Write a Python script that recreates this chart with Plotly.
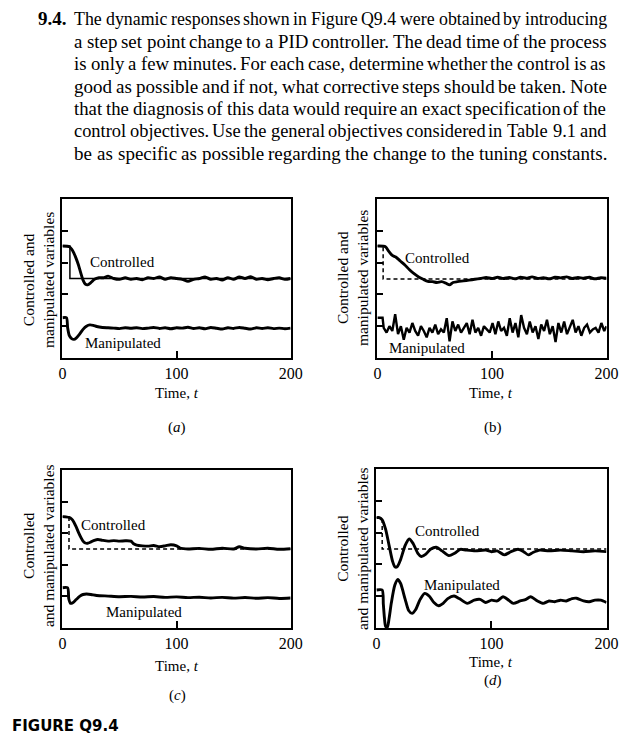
import plotly.graph_objects as go

W, H = 639, 742
SERIF = "Liberation Serif"

# ---------------- data ----------------
x_ticks = [0, 100, 200]
x_tick_labels = ["0", "100", "200"]
left_ticks = [2, 4, 6, 8]
right_ticks = [2.5, 7.5]

# panel (a)
a_ctrl_t = [0, 6, 8, 10, 12, 14, 16, 18, 20, 22, 25, 28, 32, 36, 40, 45, 50, 55, 60, 65, 70, 75, 80,
            85, 90, 95, 100, 105, 110, 115, 120, 125, 130, 135, 140, 145, 150, 155, 160, 165, 170,
            175, 180, 185, 190, 195, 200]
a_ctrl_v = [7.04, 7.0, 6.85, 6.6, 6.25, 5.85, 5.35, 4.9, 4.65, 4.6, 4.75, 4.95, 5.05, 5.05, 5.15, 5.0,
            4.95, 5.05, 4.95, 5.0, 4.92, 5.05, 5.0, 5.1, 4.95, 5.05, 5.0, 4.95, 4.82, 4.95, 5.0, 5.1,
            4.95, 5.0, 4.9, 5.05, 4.95, 5.1, 5.0, 5.12, 4.95, 5.0, 4.92, 5.0, 5.05, 4.95, 5.0]
a_sp_t = [0, 6.5, 6.5, 200]
a_sp_v = [7.04, 7.04, 5.0, 5.0]
a_man_t = [0, 3.5, 4.5, 6, 8, 10, 12, 15, 18, 21, 24, 27, 30, 35, 40, 45, 50, 55, 60, 65, 70, 75, 80,
           85, 90, 95, 100, 105, 110, 115, 120, 125, 130, 135, 140, 145, 150, 155, 160, 165, 170,
           175, 180, 185, 190, 195, 200]
a_man_v = [2.53, 2.53, 1.9, 1.4, 1.22, 1.17, 1.25, 1.5, 1.8, 2.0, 2.08, 2.05, 1.98, 1.92, 1.9, 1.88,
           1.85, 1.9, 1.87, 1.9, 1.85, 1.88, 1.92, 1.86, 1.9, 1.84, 1.9, 1.88, 1.93, 1.86, 1.9, 1.84,
           1.92, 1.87, 1.82, 1.9, 1.86, 1.92, 1.87, 1.82, 1.9, 1.86, 1.9, 1.85, 1.88, 1.84, 1.88]

# panel (b)
b_ctrl_t = [0, 7, 10, 13, 16, 20, 24, 28, 32, 36, 40, 44, 48, 52, 56, 60, 63, 66, 70, 75, 80, 85, 90,
            95, 100, 105, 110, 115, 120, 125, 130, 135, 140, 145, 150, 155, 160, 165, 170, 175, 180,
            185, 190, 195, 200]
b_ctrl_v = [7.04, 7.0, 6.7, 6.45, 6.35, 6.1, 5.85, 5.55, 5.3, 5.1, 4.95, 4.82, 4.8, 4.75, 4.8, 4.7,
            4.6, 4.75, 4.8, 4.85, 4.9, 4.95, 5.0, 5.06, 5.0, 5.08, 5.0, 5.06, 4.98, 5.08, 5.02, 5.1,
            5.0, 5.05, 4.98, 5.08, 5.04, 5.1, 5.0, 5.06, 5.02, 5.08, 4.98, 5.05, 5.02]
b_sp_t = [0, 5, 5, 200]
b_sp_v = [7.04, 7.04, 4.97, 4.97]
b_man_t = [0, 4.5, 5.5, 8, 10.5, 13, 15.5, 18, 20.5, 23, 25.5, 28, 30.5, 33, 35.5, 38, 40.5, 43, 45.5,
           48, 50.5, 53, 55.5, 58, 60.5, 63, 65.5, 68, 70.5, 73, 75.5, 78, 80.5, 83, 85.5, 88, 90.5,
           93, 95.5, 98, 100.5, 103, 105.5, 108, 110.5, 113, 115.5, 118, 120.5, 123, 125.5, 128,
           130.5, 133, 135.5, 138, 140.5, 143, 145.5, 148, 150.5, 153, 155.5, 158, 160.5, 163,
           165.5, 168, 170.5, 173, 175.5, 178, 180.5, 183, 185.5, 188, 190.5, 193, 195.5, 198, 200]
b_man_v = [2.53, 2.53, 1.9, 1.6, 2.0, 1.7, 2.75, 1.5, 2.0, 1.15, 1.9, 1.6, 2.2, 1.7, 1.4, 2.0, 1.7,
           1.3, 1.9, 1.6, 2.1, 1.5, 1.8, 1.6, 2.5, 1.05, 2.3, 1.7, 2.1, 1.6, 1.9, 2.2, 1.5, 2.4, 1.6,
           1.9, 1.4, 2.0, 1.8, 1.6, 2.2, 1.5, 2.3, 1.7, 1.9, 1.4, 2.5, 1.6, 2.2, 1.3, 2.7, 1.9, 1.5,
           2.3, 1.6, 2.0, 1.2, 2.1, 1.7, 2.4, 1.5, 2.0, 1.0, 2.2, 1.6, 2.3, 1.5, 1.9, 2.4, 1.6, 2.0,
           1.4, 1.9, 2.1, 1.6, 1.8, 1.9, 1.6, 2.2, 1.7, 2.0]

# panel (c)
c_ctrl_t = [0, 5.7, 8, 10, 12, 14, 16, 18, 20, 22, 25, 28, 31, 35, 40, 45, 50, 55, 60, 62, 65, 70, 75,
            80, 85, 90, 95, 100, 103, 106, 110, 120, 130, 140, 150, 155, 160, 170, 180, 190, 200]
c_ctrl_v = [7.05, 7.0, 6.9, 6.7, 6.4, 6.05, 5.75, 5.5, 5.38, 5.36, 5.45, 5.55, 5.6, 5.55, 5.5, 5.53,
            5.5, 5.52, 5.5, 5.35, 5.25, 5.2, 5.18, 5.22, 5.15, 5.2, 5.27, 5.2, 5.06, 5.02, 5.0, 5.04,
            4.98, 5.05, 5.0, 5.14, 5.05, 5.0, 5.05, 4.98, 5.02]
c_sp_t = [0, 5.7, 5.7, 200]
c_sp_v = [7.05, 7.05, 5.0, 5.0]
c_man_t = [0, 4.5, 5.5, 7, 9, 12, 15, 18, 21, 25, 30, 40, 50, 60, 70, 80, 90, 100, 110, 120, 130, 140,
           150, 160, 170, 180, 190, 200]
c_man_v = [2.55, 2.55, 1.85, 1.56, 1.6, 1.8, 2.0, 2.12, 2.15, 2.12, 2.06, 2.02, 1.98, 2.0, 1.96, 1.99,
           1.94, 1.97, 1.92, 1.95, 1.9, 1.94, 1.89, 1.93, 1.88, 1.92, 1.87, 1.9]

# panel (d)
d_ctrl_t = [0, 2.5, 5, 8, 11, 14, 16, 18, 21, 25, 28.5, 32, 36, 39, 43, 47, 52, 57, 63, 68, 73, 78, 86,
            95, 100, 105, 111, 117, 123, 128, 132, 136, 142, 150, 160, 170, 180, 190, 200]
d_ctrl_v = [6.94, 6.94, 6.8, 6.2, 5.2, 4.2, 3.85, 3.85, 4.3, 5.2, 5.6, 5.3, 4.7, 4.5, 4.65, 4.95, 5.08,
            4.85, 4.55, 4.7, 4.95, 4.9, 4.85, 4.9, 4.8, 4.85, 4.6, 4.8, 4.95, 4.8, 4.6, 4.75, 4.9,
            4.85, 4.9, 4.85, 4.8, 4.85, 4.8]
d_sp_t = [0, 5, 5, 200]
d_sp_v = [6.94, 6.94, 4.97, 4.97]
d_man_t = [0, 5, 6, 7, 8, 9.5, 11, 13, 16, 18.6, 21, 25, 28, 31, 34, 38, 42, 46, 50, 54, 58, 62, 67.5,
           72, 79, 85, 90, 95, 100, 105, 110, 115, 119, 125, 130, 134, 140, 145, 150, 155, 160, 165,
           170, 174, 180, 185, 190, 195, 200]
d_man_v = [2.39, 2.39, 1.5, 0.6, 0.1, 0.05, 0.6, 1.6, 2.7, 3.06, 2.8, 1.8, 1.1, 0.92, 1.15, 1.8, 2.18,
           2.0, 1.6, 1.4, 1.55, 1.85, 2.01, 1.85, 1.55, 1.75, 1.8, 1.6, 1.75, 1.7, 1.97, 1.75, 1.55,
           1.7, 1.8, 1.97, 1.7, 1.55, 1.7, 1.65, 1.75, 1.7, 1.85, 1.87, 1.7, 1.65, 1.75, 1.75, 1.6]

PARAGRAPH = [
    "The dynamic responses shown in Figure Q9.4 were obtained by introducing",
    "a step set point change to a PID controller. The dead time of the process",
    "is only a few minutes. For each case, determine whether the control is as",
    "good as possible and if not, what corrective steps should be taken. Note",
    "that the diagnosis of this data would require an exact specification of the",
    "control objectives. Use the general objectives considered in Table 9.1 and",
    "be as specific as possible regarding the change to the tuning constants.",
]

# ---------------- layout helpers ----------------
def fx(px):
    return px / W

def fy(py):
    return 1 - py / H

# pixel boxes (left, right, top, bottom)
BOX = {
    1: (60, 294, 199, 358),
    2: (383, 618, 199, 358),
    3: (60, 294, 470, 628),
    4: (382, 618, 469, 628),
}

fig = go.Figure()

panels = [
    (1, a_ctrl_t, a_ctrl_v, a_sp_t, a_sp_v, a_man_t, a_man_v, "solid", "spline"),
    (2, b_ctrl_t, b_ctrl_v, b_sp_t, b_sp_v, b_man_t, b_man_v, "4px,3px", "linear"),
    (3, c_ctrl_t, c_ctrl_v, c_sp_t, c_sp_v, c_man_t, c_man_v, "4px,3px", "spline"),
    (4, d_ctrl_t, d_ctrl_v, d_sp_t, d_sp_v, d_man_t, d_man_v, "4px,3px", "spline"),
]

for i, ct, cv, st, sv, mt, mv, dash, mshape in panels:
    xa = "x" if i == 1 else f"x{i}"
    ya = "y" if i == 1 else f"y{i}"
    fig.add_trace(go.Scatter(x=st, y=sv, mode="lines", xaxis=xa, yaxis=ya,
                             line=dict(color="black", width=1.5, dash=dash), showlegend=False))
    fig.add_trace(go.Scatter(x=ct, y=cv, mode="lines", xaxis=xa, yaxis=ya,
                             line=dict(color="black", width=2.9, shape="spline", smoothing=0.7),
                             showlegend=False))
    mline = dict(color="black", width=2.4 if mshape == "linear" else 2.9, shape=mshape)
    if mshape == "spline":
        mline["smoothing"] = 0.7
    fig.add_trace(go.Scatter(x=mt, y=mv, mode="lines", xaxis=xa, yaxis=ya,
                             line=mline, showlegend=False))

layout = dict(
    width=W, height=H, margin=dict(l=0, r=0, t=0, b=0),
    paper_bgcolor="white", plot_bgcolor="white", showlegend=False,
    font=dict(family=SERIF, size=15, color="black"),
)

for i, (l, r, t, b) in BOX.items():
    sfx = "" if i == 1 else str(i)
    layout["xaxis" + sfx] = dict(
        domain=[fx(l), fx(r)], anchor="y" + sfx, range=[0, 200],
        tickvals=x_ticks, ticktext=x_tick_labels, ticks="inside", ticklen=7, tickwidth=1.5,
        tickcolor="black", showline=True, linecolor="black", linewidth=1.7, mirror=True,
        showgrid=False, zeroline=False, tickfont=dict(family=SERIF, size=16, color="black"),
        fixedrange=True,
    )
    layout["yaxis" + sfx] = dict(
        domain=[fy(b), fy(t)], anchor="x" + sfx, range=[0, 10],
        tickvals=left_ticks, ticks="inside", ticklen=6, tickwidth=1.5, tickcolor="black",
        showticklabels=False, showline=True, linecolor="black", linewidth=1.7, mirror=True,
        showgrid=False, zeroline=False, fixedrange=True,
    )

# right-hand inner ticks for panels b, c, d
for j, i in zip([5, 6, 7], [2, 3, 4]):
    layout[f"yaxis{j}"] = dict(
        overlaying=f"y{i}", side="right", anchor=f"x{i}", range=[0, 10],
        tickvals=right_ticks, ticks="inside", ticklen=6, tickwidth=1.5, tickcolor="black",
        showticklabels=False, showline=False, showgrid=False, zeroline=False, fixedrange=True,
    )

fig.update_layout(**layout)

ann = []

def add_text(x, y, text, size=15, family=SERIF, xanchor="center", yanchor="middle",
             angle=0, xref="paper", yref="paper"):
    ann.append(dict(x=x, y=y, xref=xref, yref=yref, text=text, showarrow=False,
                    xanchor=xanchor, yanchor=yanchor, textangle=angle, borderpad=0,
                    font=dict(family=family, size=size, color="black")))

# axis titles and sub-labels
add_text(fx(177), fy(393), "Time, <i>t</i>")
add_text(fx(500), fy(393), "Time, <i>t</i>")
add_text(fx(177), fy(666), "Time, <i>t</i>")
add_text(fx(500), fy(662), "Time, <i>t</i>")
add_text(fx(177), fy(428), "(<i>a</i>)")
add_text(fx(502), fy(428), "(b)")
add_text(fx(178), fy(695), "(<i>c</i>)")
add_text(fx(502), fy(680), "(<i>d</i>)")

add_text(fx(35), fy(280), "Controlled and<br>manipulated variables", size=15.5, angle=-90)
add_text(fx(357), fy(278), "Controlled and<br>manipulated variables", size=15.5, angle=-90)
add_text(fx(35), fy(546), "Controlled<br>and manipulated variables", size=15.5, angle=-90)
add_text(fx(357), fy(549), "Controlled<br>and manipulated variables", size=15.5, angle=-90)

# curve labels (data coordinates)
labels = [
    ("x", "y", 53, 6.04, 0.94, 53),
    ("x2", "y2", 52.8, 6.29, 0.63, 43.4),
    ("x3", "y3", 44.4, 6.52, 1.01, 71.8),
    ("x4", "y4", 61.9, 6.1, 2.7, 74.6),
]
for xr, yr, tc, vc, vm, tm in labels:
    add_text(tc, vc, "Controlled", xref=xr, yref=yr)
    add_text(tm, vm, "Manipulated", xref=xr, yref=yr)

add_text(fx(7), fy(726), "<b>FIGURE Q9.4</b>", size=15, family="DejaVu Sans", xanchor="left")

# paragraph, justified word by word using Times metrics
TW = {' ': 250, ',': 250, '.': 250, '-': 333, ':': 278, ';': 278,
      'A': 722, 'B': 667, 'C': 667, 'D': 722, 'E': 611, 'F': 556, 'G': 722, 'H': 722, 'I': 333,
      'J': 389, 'K': 722, 'L': 611, 'M': 889, 'N': 722, 'O': 722, 'P': 556, 'Q': 722, 'R': 667,
      'S': 556, 'T': 611, 'U': 722, 'V': 722, 'W': 944, 'X': 722, 'Y': 722, 'Z': 611,
      'a': 444, 'b': 500, 'c': 444, 'd': 500, 'e': 444, 'f': 333, 'g': 500, 'h': 500, 'i': 278,
      'j': 278, 'k': 500, 'l': 278, 'm': 778, 'n': 500, 'o': 500, 'p': 500, 'q': 500, 'r': 333,
      's': 389, 't': 278, 'u': 500, 'v': 500, 'w': 722, 'x': 500, 'y': 500, 'z': 444}

def em(s):
    return sum(TW.get(c, 500) for c in s) / 1000

PL, PR = 71, 616
add_text(fx(34), fy(19), "<b>9.4.</b>", size=19, xanchor="left")
for k, line in enumerate(PARAGRAPH):
    yy = 19 + k * 22.4
    words = line.split(" ")
    ems = [em(w) for w in words]
    size = (PR - PL - 4.8 * (len(words) - 1)) / sum(ems)
    size = max(17.6, min(19.0, size))
    widths = [e * size for e in ems]
    gap = (PR - PL - sum(widths)) / (len(words) - 1)
    xx = PL
    for w, ww in zip(words, widths):
        add_text(fx(xx), fy(yy), w, size=size, xanchor="left")
        xx += ww + gap

fig.update_layout(annotations=ann)
fig.write_html(
    "out.html",
    config={"displayModeBar": False},
    post_script="document.body.style.margin='0';document.body.style.padding='0';"
                "document.body.style.overflow='hidden';",
)
